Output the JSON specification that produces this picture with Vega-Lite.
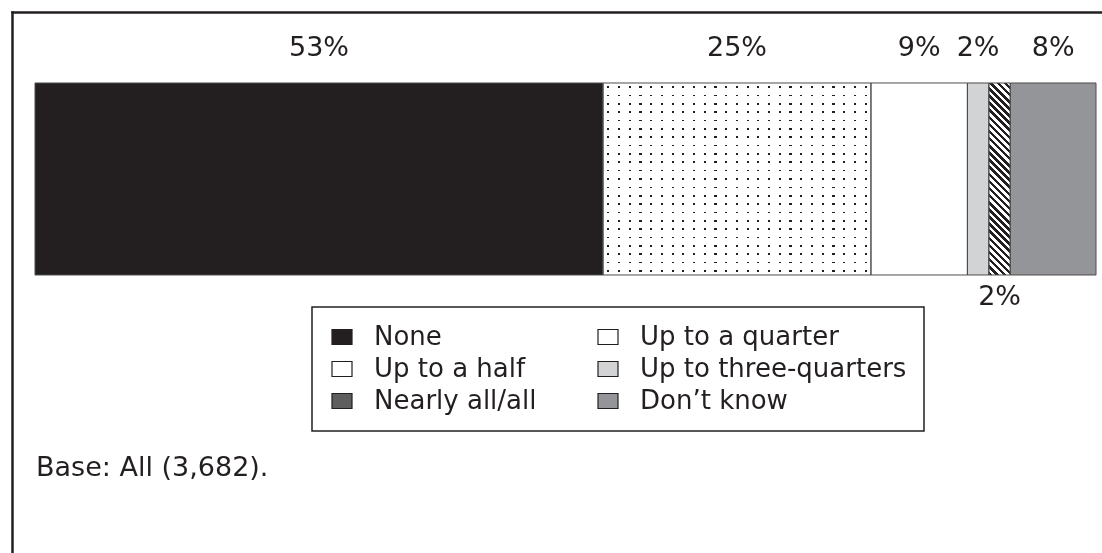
{
  "$schema": "https://vega.github.io/schema/vega-lite/v6.json",
  "width": 1090,
  "height": 541,
  "autosize": "none",
  "padding": {"left": 12, "top": 12, "right": 0, "bottom": 0},
  "background": "white",
  "config": {"view": {"stroke": null}},
  "title": {
    "text": "Base: All (3,682).",
    "orient": "bottom",
    "anchor": "start",
    "frame": "group",
    "offset": -77,
    "dx": 24,
    "baseline": "alphabetic",
    "font": "DejaVu Sans",
    "fontSize": 27,
    "fontWeight": "normal",
    "color": "#231f20"
  },
  "data": {
    "values": [
      {"cat": "None", "pct": 0.53, "ord": 1, "q": "All"},
      {"cat": "Up to a quarter", "pct": 0.25, "ord": 2, "q": "All"},
      {"cat": "Up to a half", "pct": 0.09, "ord": 3, "q": "All"},
      {"cat": "Up to three-quarters", "pct": 0.02, "ord": 4, "q": "All"},
      {"cat": "Nearly all/all", "pct": 0.02, "ord": 5, "q": "All"},
      {"cat": "Don’t know", "pct": 0.08, "ord": 6, "q": "All"}
    ]
  },
  "encoding": {
    "y": {
      "field": "q",
      "type": "nominal",
      "scale": {"paddingInner": 0, "paddingOuter": 0.908854, "align": 0.203438},
      "axis": {"orient": "left", "domain": true, "domainColor": "#231f20", "domainWidth": 2.5, "domainCap": "square", "ticks": false, "labels": false, "grid": false, "title": null}
    },
    "x": {
      "field": "pct",
      "type": "quantitative",
      "stack": "zero",
      "scale": {"domain": [-0.021461, 0.995596], "nice": false, "zero": false},
      "axis": {"orient": "top", "domain": true, "domainColor": "#231f20", "domainWidth": 2.5, "domainCap": "square", "ticks": false, "labels": false, "grid": false, "title": null}
    },
    "order": {"field": "ord", "type": "quantitative"}
  },
  "layer": [
    {
      "mark": {"type": "bar"},
      "encoding": {
        "color": {
          "field": "cat",
          "type": "nominal",
          "scale": {
            "domain": ["None", "Up to a quarter", "Up to a half", "Up to three-quarters", "Nearly all/all", "Don’t know"],
            "range": ["#231f20", "#ffffff", "#ffffff", "#d1d3d4", "#5e5e5e", "#939598"]
          },
          "legend": {
            "orient": "none",
            "legendX": 300,
            "legendY": 295,
            "columns": 2,
            "direction": "horizontal",
            "title": null,
            "labelFont": "DejaVu Sans",
            "labelFontSize": 26,
            "labelColor": "#231f20",
            "labelOffset": 19,
            "labelLimit": 500,
            "symbolType": "M-1,-0.75H1V0.75H-1Z",
            "symbolSize": 400,
            "symbolStrokeColor": "#231f20",
            "symbolStrokeWidth": 1.2,
            "rowPadding": 6,
            "columnPadding": 58,
            "padding": 17,
            "strokeColor": "#231f20",
            "encode": {
              "legend": {"update": {"strokeWidth": {"value": 1.5}}},
              "symbols": {
                "update": {
                  "stroke": {"value": "#231f20"},
                  "strokeWidth": {"value": 1.2}
                }
              }
            }
          }
        }
      }
    },
    {
      "mark": {
        "type": "bar",
        "fill": {
          "gradient": "linear", "x1": 0, "y1": 0, "x2": 1, "y2": 0,
          "stops": [
            {"offset": 0.016, "color": "#ffffff"}, {"offset": 0.016, "color": "#231f20"}, {"offset": 0.024, "color": "#231f20"}, {"offset": 0.024, "color": "#ffffff"},
            {"offset": 0.056, "color": "#ffffff"}, {"offset": 0.056, "color": "#231f20"}, {"offset": 0.064, "color": "#231f20"}, {"offset": 0.064, "color": "#ffffff"},
            {"offset": 0.096, "color": "#ffffff"}, {"offset": 0.096, "color": "#231f20"}, {"offset": 0.104, "color": "#231f20"}, {"offset": 0.104, "color": "#ffffff"},
            {"offset": 0.136, "color": "#ffffff"}, {"offset": 0.136, "color": "#231f20"}, {"offset": 0.144, "color": "#231f20"}, {"offset": 0.144, "color": "#ffffff"},
            {"offset": 0.176, "color": "#ffffff"}, {"offset": 0.176, "color": "#231f20"}, {"offset": 0.184, "color": "#231f20"}, {"offset": 0.184, "color": "#ffffff"},
            {"offset": 0.216, "color": "#ffffff"}, {"offset": 0.216, "color": "#231f20"}, {"offset": 0.224, "color": "#231f20"}, {"offset": 0.224, "color": "#ffffff"},
            {"offset": 0.256, "color": "#ffffff"}, {"offset": 0.256, "color": "#231f20"}, {"offset": 0.264, "color": "#231f20"}, {"offset": 0.264, "color": "#ffffff"},
            {"offset": 0.296, "color": "#ffffff"}, {"offset": 0.296, "color": "#231f20"}, {"offset": 0.304, "color": "#231f20"}, {"offset": 0.304, "color": "#ffffff"},
            {"offset": 0.336, "color": "#ffffff"}, {"offset": 0.336, "color": "#231f20"}, {"offset": 0.344, "color": "#231f20"}, {"offset": 0.344, "color": "#ffffff"},
            {"offset": 0.376, "color": "#ffffff"}, {"offset": 0.376, "color": "#231f20"}, {"offset": 0.384, "color": "#231f20"}, {"offset": 0.384, "color": "#ffffff"},
            {"offset": 0.416, "color": "#ffffff"}, {"offset": 0.416, "color": "#231f20"}, {"offset": 0.424, "color": "#231f20"}, {"offset": 0.424, "color": "#ffffff"},
            {"offset": 0.456, "color": "#ffffff"}, {"offset": 0.456, "color": "#231f20"}, {"offset": 0.464, "color": "#231f20"}, {"offset": 0.464, "color": "#ffffff"},
            {"offset": 0.496, "color": "#ffffff"}, {"offset": 0.496, "color": "#231f20"}, {"offset": 0.504, "color": "#231f20"}, {"offset": 0.504, "color": "#ffffff"},
            {"offset": 0.536, "color": "#ffffff"}, {"offset": 0.536, "color": "#231f20"}, {"offset": 0.544, "color": "#231f20"}, {"offset": 0.544, "color": "#ffffff"},
            {"offset": 0.576, "color": "#ffffff"}, {"offset": 0.576, "color": "#231f20"}, {"offset": 0.584, "color": "#231f20"}, {"offset": 0.584, "color": "#ffffff"},
            {"offset": 0.616, "color": "#ffffff"}, {"offset": 0.616, "color": "#231f20"}, {"offset": 0.624, "color": "#231f20"}, {"offset": 0.624, "color": "#ffffff"},
            {"offset": 0.656, "color": "#ffffff"}, {"offset": 0.656, "color": "#231f20"}, {"offset": 0.664, "color": "#231f20"}, {"offset": 0.664, "color": "#ffffff"},
            {"offset": 0.696, "color": "#ffffff"}, {"offset": 0.696, "color": "#231f20"}, {"offset": 0.704, "color": "#231f20"}, {"offset": 0.704, "color": "#ffffff"},
            {"offset": 0.736, "color": "#ffffff"}, {"offset": 0.736, "color": "#231f20"}, {"offset": 0.744, "color": "#231f20"}, {"offset": 0.744, "color": "#ffffff"},
            {"offset": 0.776, "color": "#ffffff"}, {"offset": 0.776, "color": "#231f20"}, {"offset": 0.784, "color": "#231f20"}, {"offset": 0.784, "color": "#ffffff"},
            {"offset": 0.816, "color": "#ffffff"}, {"offset": 0.816, "color": "#231f20"}, {"offset": 0.824, "color": "#231f20"}, {"offset": 0.824, "color": "#ffffff"},
            {"offset": 0.856, "color": "#ffffff"}, {"offset": 0.856, "color": "#231f20"}, {"offset": 0.864, "color": "#231f20"}, {"offset": 0.864, "color": "#ffffff"},
            {"offset": 0.896, "color": "#ffffff"}, {"offset": 0.896, "color": "#231f20"}, {"offset": 0.904, "color": "#231f20"}, {"offset": 0.904, "color": "#ffffff"},
            {"offset": 0.936, "color": "#ffffff"}, {"offset": 0.936, "color": "#231f20"}, {"offset": 0.944, "color": "#231f20"}, {"offset": 0.944, "color": "#ffffff"},
            {"offset": 0.976, "color": "#ffffff"}, {"offset": 0.976, "color": "#231f20"}, {"offset": 0.984, "color": "#231f20"}, {"offset": 0.984, "color": "#ffffff"}
          ]
        }
      },
      "encoding": {
        "detail": {"field": "cat", "type": "nominal"},
        "fillOpacity": {"condition": {"test": "datum.cat === 'Up to a quarter'", "value": 1}, "value": 0}
      }
    },
    {
      "mark": {
        "type": "bar",
        "blend": "lighten",
        "fill": {
          "gradient": "linear", "x1": 0, "y1": 0, "x2": 0, "y2": 1,
          "stops": [
            {"offset": 0.01739, "color": "#ffffff"}, {"offset": 0.01739, "color": "#231f20"}, {"offset": 0.02609, "color": "#231f20"}, {"offset": 0.02609, "color": "#ffffff"},
            {"offset": 0.06087, "color": "#ffffff"}, {"offset": 0.06087, "color": "#231f20"}, {"offset": 0.06957, "color": "#231f20"}, {"offset": 0.06957, "color": "#ffffff"},
            {"offset": 0.10435, "color": "#ffffff"}, {"offset": 0.10435, "color": "#231f20"}, {"offset": 0.11304, "color": "#231f20"}, {"offset": 0.11304, "color": "#ffffff"},
            {"offset": 0.14783, "color": "#ffffff"}, {"offset": 0.14783, "color": "#231f20"}, {"offset": 0.15652, "color": "#231f20"}, {"offset": 0.15652, "color": "#ffffff"},
            {"offset": 0.1913, "color": "#ffffff"}, {"offset": 0.1913, "color": "#231f20"}, {"offset": 0.2, "color": "#231f20"}, {"offset": 0.2, "color": "#ffffff"},
            {"offset": 0.23478, "color": "#ffffff"}, {"offset": 0.23478, "color": "#231f20"}, {"offset": 0.24348, "color": "#231f20"}, {"offset": 0.24348, "color": "#ffffff"},
            {"offset": 0.27826, "color": "#ffffff"}, {"offset": 0.27826, "color": "#231f20"}, {"offset": 0.28696, "color": "#231f20"}, {"offset": 0.28696, "color": "#ffffff"},
            {"offset": 0.32174, "color": "#ffffff"}, {"offset": 0.32174, "color": "#231f20"}, {"offset": 0.33043, "color": "#231f20"}, {"offset": 0.33043, "color": "#ffffff"},
            {"offset": 0.36522, "color": "#ffffff"}, {"offset": 0.36522, "color": "#231f20"}, {"offset": 0.37391, "color": "#231f20"}, {"offset": 0.37391, "color": "#ffffff"},
            {"offset": 0.4087, "color": "#ffffff"}, {"offset": 0.4087, "color": "#231f20"}, {"offset": 0.41739, "color": "#231f20"}, {"offset": 0.41739, "color": "#ffffff"},
            {"offset": 0.45217, "color": "#ffffff"}, {"offset": 0.45217, "color": "#231f20"}, {"offset": 0.46087, "color": "#231f20"}, {"offset": 0.46087, "color": "#ffffff"},
            {"offset": 0.49565, "color": "#ffffff"}, {"offset": 0.49565, "color": "#231f20"}, {"offset": 0.50435, "color": "#231f20"}, {"offset": 0.50435, "color": "#ffffff"},
            {"offset": 0.53913, "color": "#ffffff"}, {"offset": 0.53913, "color": "#231f20"}, {"offset": 0.54783, "color": "#231f20"}, {"offset": 0.54783, "color": "#ffffff"},
            {"offset": 0.58261, "color": "#ffffff"}, {"offset": 0.58261, "color": "#231f20"}, {"offset": 0.5913, "color": "#231f20"}, {"offset": 0.5913, "color": "#ffffff"},
            {"offset": 0.62609, "color": "#ffffff"}, {"offset": 0.62609, "color": "#231f20"}, {"offset": 0.63478, "color": "#231f20"}, {"offset": 0.63478, "color": "#ffffff"},
            {"offset": 0.66957, "color": "#ffffff"}, {"offset": 0.66957, "color": "#231f20"}, {"offset": 0.67826, "color": "#231f20"}, {"offset": 0.67826, "color": "#ffffff"},
            {"offset": 0.71304, "color": "#ffffff"}, {"offset": 0.71304, "color": "#231f20"}, {"offset": 0.72174, "color": "#231f20"}, {"offset": 0.72174, "color": "#ffffff"},
            {"offset": 0.75652, "color": "#ffffff"}, {"offset": 0.75652, "color": "#231f20"}, {"offset": 0.76522, "color": "#231f20"}, {"offset": 0.76522, "color": "#ffffff"},
            {"offset": 0.8, "color": "#ffffff"}, {"offset": 0.8, "color": "#231f20"}, {"offset": 0.8087, "color": "#231f20"}, {"offset": 0.8087, "color": "#ffffff"},
            {"offset": 0.84348, "color": "#ffffff"}, {"offset": 0.84348, "color": "#231f20"}, {"offset": 0.85217, "color": "#231f20"}, {"offset": 0.85217, "color": "#ffffff"},
            {"offset": 0.88696, "color": "#ffffff"}, {"offset": 0.88696, "color": "#231f20"}, {"offset": 0.89565, "color": "#231f20"}, {"offset": 0.89565, "color": "#ffffff"},
            {"offset": 0.93043, "color": "#ffffff"}, {"offset": 0.93043, "color": "#231f20"}, {"offset": 0.93913, "color": "#231f20"}, {"offset": 0.93913, "color": "#ffffff"},
            {"offset": 0.97391, "color": "#ffffff"}, {"offset": 0.97391, "color": "#231f20"}, {"offset": 0.98261, "color": "#231f20"}, {"offset": 0.98261, "color": "#ffffff"}
          ]
        }
      },
      "encoding": {
        "detail": {"field": "cat", "type": "nominal"},
        "fillOpacity": {"condition": {"test": "datum.cat === 'Up to a quarter'", "value": 1}, "value": 0}
      }
    },
    {
      "mark": {
        "type": "bar",
        "fill": {
          "gradient": "linear", "x1": 0, "y1": 1, "x2": 0.12255, "y2": -0.09795,
          "stops": [
            {"offset": 0, "color": "#231f20"}, {"offset": 0.01667, "color": "#231f20"}, {"offset": 0.01667, "color": "#ffffff"}, {"offset": 0.03333, "color": "#ffffff"},
            {"offset": 0.03333, "color": "#231f20"}, {"offset": 0.05, "color": "#231f20"}, {"offset": 0.05, "color": "#ffffff"}, {"offset": 0.06667, "color": "#ffffff"},
            {"offset": 0.06667, "color": "#231f20"}, {"offset": 0.08333, "color": "#231f20"}, {"offset": 0.08333, "color": "#ffffff"}, {"offset": 0.1, "color": "#ffffff"},
            {"offset": 0.1, "color": "#231f20"}, {"offset": 0.11667, "color": "#231f20"}, {"offset": 0.11667, "color": "#ffffff"}, {"offset": 0.13333, "color": "#ffffff"},
            {"offset": 0.13333, "color": "#231f20"}, {"offset": 0.15, "color": "#231f20"}, {"offset": 0.15, "color": "#ffffff"}, {"offset": 0.16667, "color": "#ffffff"},
            {"offset": 0.16667, "color": "#231f20"}, {"offset": 0.18333, "color": "#231f20"}, {"offset": 0.18333, "color": "#ffffff"}, {"offset": 0.2, "color": "#ffffff"},
            {"offset": 0.2, "color": "#231f20"}, {"offset": 0.21667, "color": "#231f20"}, {"offset": 0.21667, "color": "#ffffff"}, {"offset": 0.23333, "color": "#ffffff"},
            {"offset": 0.23333, "color": "#231f20"}, {"offset": 0.25, "color": "#231f20"}, {"offset": 0.25, "color": "#ffffff"}, {"offset": 0.26667, "color": "#ffffff"},
            {"offset": 0.26667, "color": "#231f20"}, {"offset": 0.28333, "color": "#231f20"}, {"offset": 0.28333, "color": "#ffffff"}, {"offset": 0.3, "color": "#ffffff"},
            {"offset": 0.3, "color": "#231f20"}, {"offset": 0.31667, "color": "#231f20"}, {"offset": 0.31667, "color": "#ffffff"}, {"offset": 0.33333, "color": "#ffffff"},
            {"offset": 0.33333, "color": "#231f20"}, {"offset": 0.35, "color": "#231f20"}, {"offset": 0.35, "color": "#ffffff"}, {"offset": 0.36667, "color": "#ffffff"},
            {"offset": 0.36667, "color": "#231f20"}, {"offset": 0.38333, "color": "#231f20"}, {"offset": 0.38333, "color": "#ffffff"}, {"offset": 0.4, "color": "#ffffff"},
            {"offset": 0.4, "color": "#231f20"}, {"offset": 0.41667, "color": "#231f20"}, {"offset": 0.41667, "color": "#ffffff"}, {"offset": 0.43333, "color": "#ffffff"},
            {"offset": 0.43333, "color": "#231f20"}, {"offset": 0.45, "color": "#231f20"}, {"offset": 0.45, "color": "#ffffff"}, {"offset": 0.46667, "color": "#ffffff"},
            {"offset": 0.46667, "color": "#231f20"}, {"offset": 0.48333, "color": "#231f20"}, {"offset": 0.48333, "color": "#ffffff"}, {"offset": 0.5, "color": "#ffffff"},
            {"offset": 0.5, "color": "#231f20"}, {"offset": 0.51667, "color": "#231f20"}, {"offset": 0.51667, "color": "#ffffff"}, {"offset": 0.53333, "color": "#ffffff"},
            {"offset": 0.53333, "color": "#231f20"}, {"offset": 0.55, "color": "#231f20"}, {"offset": 0.55, "color": "#ffffff"}, {"offset": 0.56667, "color": "#ffffff"},
            {"offset": 0.56667, "color": "#231f20"}, {"offset": 0.58333, "color": "#231f20"}, {"offset": 0.58333, "color": "#ffffff"}, {"offset": 0.6, "color": "#ffffff"},
            {"offset": 0.6, "color": "#231f20"}, {"offset": 0.61667, "color": "#231f20"}, {"offset": 0.61667, "color": "#ffffff"}, {"offset": 0.63333, "color": "#ffffff"},
            {"offset": 0.63333, "color": "#231f20"}, {"offset": 0.65, "color": "#231f20"}, {"offset": 0.65, "color": "#ffffff"}, {"offset": 0.66667, "color": "#ffffff"},
            {"offset": 0.66667, "color": "#231f20"}, {"offset": 0.68333, "color": "#231f20"}, {"offset": 0.68333, "color": "#ffffff"}, {"offset": 0.7, "color": "#ffffff"},
            {"offset": 0.7, "color": "#231f20"}, {"offset": 0.71667, "color": "#231f20"}, {"offset": 0.71667, "color": "#ffffff"}, {"offset": 0.73333, "color": "#ffffff"},
            {"offset": 0.73333, "color": "#231f20"}, {"offset": 0.75, "color": "#231f20"}, {"offset": 0.75, "color": "#ffffff"}, {"offset": 0.76667, "color": "#ffffff"},
            {"offset": 0.76667, "color": "#231f20"}, {"offset": 0.78333, "color": "#231f20"}, {"offset": 0.78333, "color": "#ffffff"}, {"offset": 0.8, "color": "#ffffff"},
            {"offset": 0.8, "color": "#231f20"}, {"offset": 0.81667, "color": "#231f20"}, {"offset": 0.81667, "color": "#ffffff"}, {"offset": 0.83333, "color": "#ffffff"},
            {"offset": 0.83333, "color": "#231f20"}, {"offset": 0.85, "color": "#231f20"}, {"offset": 0.85, "color": "#ffffff"}, {"offset": 0.86667, "color": "#ffffff"},
            {"offset": 0.86667, "color": "#231f20"}, {"offset": 0.88333, "color": "#231f20"}, {"offset": 0.88333, "color": "#ffffff"}, {"offset": 0.9, "color": "#ffffff"},
            {"offset": 0.9, "color": "#231f20"}, {"offset": 0.91667, "color": "#231f20"}, {"offset": 0.91667, "color": "#ffffff"}, {"offset": 0.93333, "color": "#ffffff"},
            {"offset": 0.93333, "color": "#231f20"}, {"offset": 0.95, "color": "#231f20"}, {"offset": 0.95, "color": "#ffffff"}, {"offset": 0.96667, "color": "#ffffff"},
            {"offset": 0.96667, "color": "#231f20"}, {"offset": 0.98333, "color": "#231f20"}, {"offset": 0.98333, "color": "#ffffff"}, {"offset": 1, "color": "#ffffff"}
          ]
        }
      },
      "encoding": {
        "detail": {"field": "cat", "type": "nominal"},
        "fillOpacity": {"condition": {"test": "datum.cat === 'Nearly all/all'", "value": 1}, "value": 0}
      }
    },
    {
      "mark": {"type": "bar", "fill": "#ffffff", "fillOpacity": 0, "stroke": "#4d4d4d", "strokeWidth": 1},
      "encoding": {
        "detail": {"field": "cat", "type": "nominal"}
      }
    },
    {
      "mark": {"type": "text", "dy": -131, "font": "DejaVu Sans", "fontSize": 27, "color": "#231f20", "baseline": "middle", "align": "center"},
      "encoding": {
        "x": {
          "field": "pct", "type": "quantitative", "stack": "zero", "bandPosition": 0.5,
          "axis": {"orient": "top", "domain": true, "domainColor": "#231f20", "domainWidth": 2.5, "domainCap": "square", "ticks": false, "labels": false, "grid": false, "title": null}
        },
        "detail": {"field": "cat", "type": "nominal"},
        "text": {"condition": {"test": "datum.cat === 'Nearly all/all'", "value": ""}, "field": "pct", "type": "quantitative", "format": ".0%"}
      }
    },
    {
      "mark": {"type": "text", "dy": 118, "font": "DejaVu Sans", "fontSize": 27, "color": "#231f20", "baseline": "middle", "align": "center"},
      "encoding": {
        "x": {
          "field": "pct", "type": "quantitative", "stack": "zero", "bandPosition": 0.5,
          "axis": {"orient": "top", "domain": true, "domainColor": "#231f20", "domainWidth": 2.5, "domainCap": "square", "ticks": false, "labels": false, "grid": false, "title": null}
        },
        "detail": {"field": "cat", "type": "nominal"},
        "text": {"condition": {"test": "datum.cat !== 'Nearly all/all'", "value": ""}, "field": "pct", "type": "quantitative", "format": ".0%"}
      }
    }
  ]
}
